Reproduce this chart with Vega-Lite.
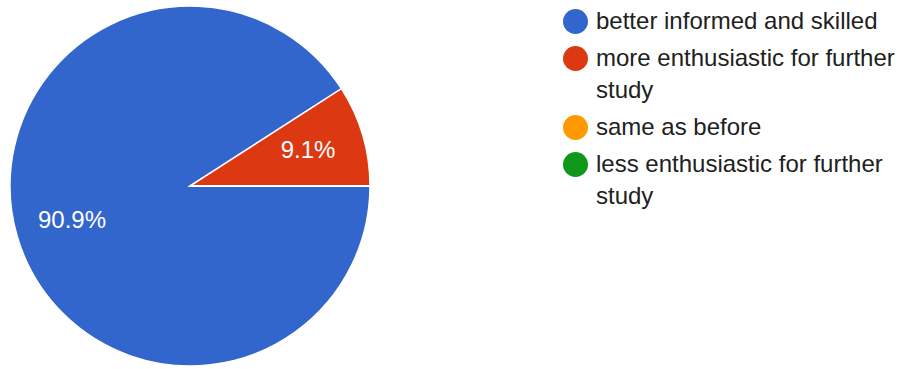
{
  "$schema": "https://vega.github.io/schema/vega-lite/v6.json",
  "width": 380,
  "height": 372,
  "padding": 0,
  "background": "white",
  "config": {
    "view": {"stroke": null},
    "font": "Liberation Sans",
    "style": {"guide-label": {"lineHeight": 32}}
  },
  "data": {
    "values": [
      {"category": "better informed and skilled", "count": 10, "idx": 1, "pct": "90.9%"},
      {"category": "more enthusiastic for further study", "count": 1, "idx": 2, "pct": "9.1%"},
      {"category": "same as before", "count": 0, "idx": 3, "pct": ""},
      {"category": "less enthusiastic for further study", "count": 0, "idx": 4, "pct": ""}
    ]
  },
  "encoding": {
    "theta": {"field": "count", "type": "quantitative", "stack": true, "scale": {"range": [1.5707963, 7.8539816]}},
    "order": {"field": "idx", "type": "quantitative"},
    "color": {
      "field": "category",
      "type": "nominal",
      "scale": {
        "domain": ["better informed and skilled", "more enthusiastic for further study", "same as before", "less enthusiastic for further study"],
        "range": ["#3366cc", "#dc3912", "#ff9900", "#109618"]
      },
      "legend": {
        "title": null,
        "orient": "right",
        "offset": 174,
        "padding": 9,
        "symbolType": "circle",
        "symbolSize": 625,
        "symbolStrokeWidth": 0,
        "symbolOpacity": 1,
        "labelFontSize": 24,
        "labelFont": "Liberation Sans",
        "labelColor": "#212121",
        "labelLimit": 500,
        "labelOffset": 8,
        "rowPadding": 12,
        "labelExpr": "datum.label == 'more enthusiastic for further study' ? ['more enthusiastic for further', 'study'] : datum.label == 'less enthusiastic for further study' ? ['less enthusiastic for further', 'study'] : datum.label",
        "encode": {"labels": {"update": {"lineHeight": {"value": 32}}}}
      }
    }
  },
  "layer": [
    {
      "mark": {"type": "arc", "outerRadius": 180, "stroke": "white", "strokeWidth": 1.5}
    },
    {
      "transform": [{"filter": "datum.count > 0"}],
      "mark": {"type": "text", "radius": 123, "fontSize": 24, "font": "Liberation Sans", "color": "white"},
      "encoding": {
        "text": {"field": "pct", "type": "nominal"},
        "color": {"value": "white"}
      }
    }
  ]
}
